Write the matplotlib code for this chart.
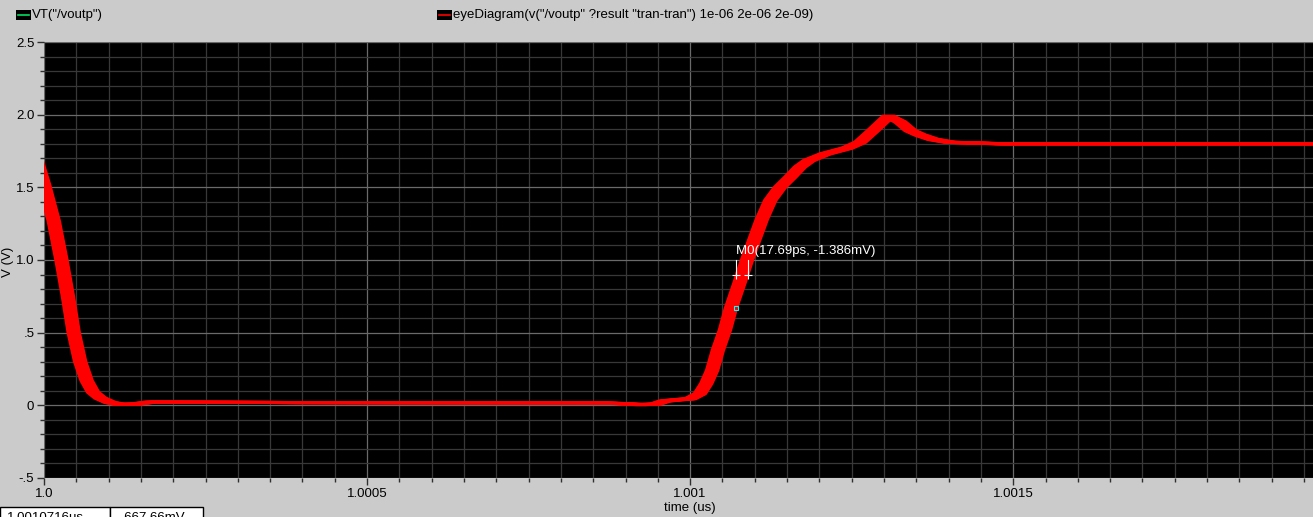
import matplotlib
matplotlib.use('Agg')
from matplotlib import pyplot as plt
from matplotlib.ticker import MultipleLocator, FixedLocator
from matplotlib.patches import Rectangle
from matplotlib.lines import Line2D

plt.rcParams['font.family'] = ['Liberation Sans', 'DejaVu Sans']

# nominal eye trace: time in ps after 1.0 us, voltage in V
t_ps = [-11, 0, 15, 27, 37, 46, 56, 66, 76, 87, 102, 118, 141, 164, 396, 861,
        892, 923, 946, 961, 985, 1000, 1015, 1025, 1034, 1043, 1054, 1063,
        1077, 1088, 1099, 1111, 1124, 1139, 1155, 1170, 1184, 1209, 1243,
        1263, 1283, 1307, 1325, 1341, 1356, 1376, 1402, 1438, 1480, 1970]
v_out = [1.68, 1.52, 1.27, 1.0, 0.75, 0.5, 0.30, 0.17, 0.09, 0.05, 0.02, 0.006,
         0.008, 0.022, 0.019, 0.017, 0.012, 0.005, 0.008, 0.03, 0.04, 0.045,
         0.08, 0.15, 0.24, 0.38, 0.52, 0.667, 0.85, 1.0, 1.135, 1.28, 1.41,
         1.50, 1.57, 1.64, 1.685, 1.73, 1.77, 1.81, 1.89, 1.99, 1.95, 1.89,
         1.86, 1.83, 1.81, 1.805, 1.80, 1.80]
# time shift of each overlaid period (ps)
jitter_ps = [-8.8, -6.6, -4.4, -2.2, 0.0, 2.2, 4.4, 6.6, 8.8]

y_ticks = [-0.5, 0, 0.5, 1.0, 1.5, 2.0, 2.5]
y_labels = ['-.5', '0', '.5', '1.0', '1.5', '2.0', '2.5']
x_ticks = [1.0, 1.0005, 1.001, 1.0015]
x_labels = ['1.0', '1.0005', '1.001', '1.0015']

# marker M0
m0_t = 1.0010716
m0_v = 0.66766
m0_dt_ps = 17.69
m0_text = 'M0(17.69ps, -1.386mV)'

W, H = 1313, 517
fig = plt.figure(figsize=(W / 100, H / 100), dpi=100, facecolor='#cbcbcb')
ax = fig.add_axes([44 / W, (H - 478) / H, (W - 44) / W, (478 - 42) / H])
ax.set_facecolor('black')
for s in ax.spines.values():
    s.set_visible(False)

for dj in jitter_ps:
    xs = [1.0 + (t + dj) * 1e-6 for t in t_ps]
    ax.plot(xs, v_out, color='#ff0000', lw=2.2, solid_capstyle='butt', zorder=3)

ax.set_xlim(1.0, 1.0 + 1964e-6)
ax.set_ylim(-0.5, 2.5)

ax.yaxis.set_major_locator(FixedLocator(y_ticks))
ax.set_yticklabels(y_labels)
ax.yaxis.set_minor_locator(MultipleLocator(0.1))
ax.xaxis.set_major_locator(FixedLocator(x_ticks))
ax.set_xticklabels(x_labels)
ax.xaxis.set_minor_locator(MultipleLocator(0.00005))

ax.grid(which='minor', color='#383838', lw=0.9, zorder=1)
ax.grid(which='major', color='#6a6a6a', lw=0.9, zorder=1)
ax.tick_params(which='major', direction='out', length=5, width=1,
               color='#303030', labelsize=9.5, labelcolor='black', pad=2)
ax.tick_params(which='minor', direction='out', length=3, width=1, color='#303030')

# marker M0 drawing
m0_t2 = m0_t + m0_dt_ps * 1e-6
ax.plot([m0_t, m0_t], [0.89, 1.0], color='white', lw=0.8, zorder=4)
ax.plot([m0_t2, m0_t2], [0.89, 1.0], color='white', lw=0.8, zorder=4)
for xm in (m0_t, m0_t2):
    ax.plot([xm], [0.9], marker='+', ms=6, mew=0.8, color='white', zorder=4)
ax.plot([m0_t], [m0_v], marker='s', ms=3.5, mfc='none', mec='#00ffff', mew=0.8, zorder=5)
ax.text(m0_t, 1.06, m0_text, color='white', fontsize=9.5, va='center', ha='left', zorder=5)

# axis titles
fig.text(690 / W, (H - 511) / H, 'time (us)', fontsize=9.5, ha='center', va='baseline')
fig.text(8 / W, (H - 262) / H, 'V (V)', fontsize=9.5, rotation=90, ha='center', va='center')

# legend strip at top
def legend_item(px, color, label):
    fig.add_artist(Rectangle((px / W, (H - 20) / H), 15 / W, 10 / H,
                             transform=fig.transFigure, color='black', lw=0))
    fig.add_artist(Line2D([(px + 2) / W, (px + 13) / W], [(H - 15) / H] * 2,
                          transform=fig.transFigure, color=color, lw=1.2))
    fig.text((px + 16) / W, (H - 15) / H, label, fontsize=9.5, va='center', ha='left')

legend_item(16, '#00e060', 'VT("/voutp")')
legend_item(437, '#ff0000', 'eyeDiagram(v("/voutp" ?result "tran-tran") 1e-06 2e-06 2e-09)')

# readout boxes at bottom left
for x0, x1, txt in [(0, 110, '1.0010716us'), (110, 203, '  667.66mV')]:
    fig.add_artist(Rectangle((x0 / W, -0.02), (x1 - x0) / W, (H - 507) / H + 0.02,
                             transform=fig.transFigure, facecolor='white',
                             edgecolor='black', lw=1))
    fig.text((x0 + 7) / W, (H - 521) / H, txt, fontsize=9.5, va='baseline', ha='left')

fig.savefig('out.png', dpi=100, facecolor=fig.get_facecolor())
